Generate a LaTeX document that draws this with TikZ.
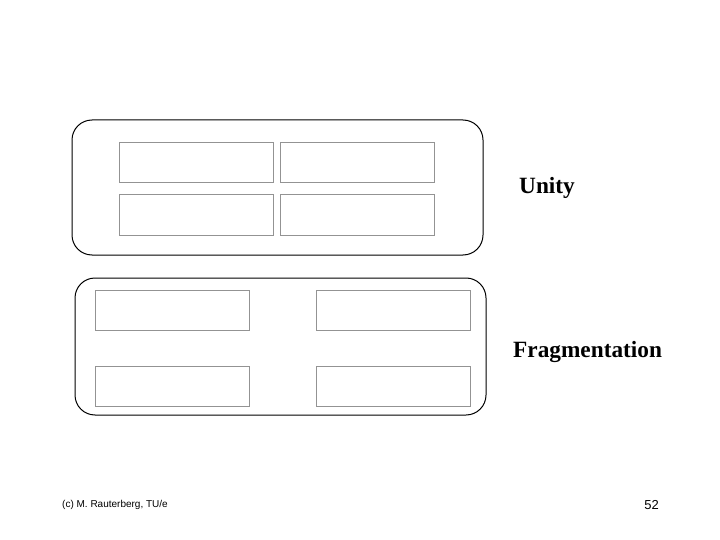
\documentclass[tikz,border=0pt]{standalone}
\usepackage{fontspec}
\setmainfont{Liberation Serif}
\setsansfont{Liberation Sans}
\begin{document}
\begin{tikzpicture}[x=1pt, y=-1pt,
  panel/.style={draw=black, line width=1pt, rounded corners=20pt, minimum width=411pt},
  cell/.style={draw=gray!85, line width=1pt, minimum width=154pt, minimum height=40pt},
  caption/.style={inner sep=0pt, font=\fontsize{23.3}{28}\selectfont\bfseries}]
\useasboundingbox (0,0) rectangle (720,540);
% unity
\node[panel, minimum height=135pt] (unity) at (277.5,187.5) {};
\node[cell] (u1) at (196,163) {};
\node[cell] (u2) at (357.5,163) {};
\node[cell] (u3) at (196,215) {};
\node[cell] (u4) at (357.5,215) {};
\node[caption, anchor=base west] (lunity) at (519,194) {Unity};
% fragmentation
\node[panel, minimum height=137pt] (frag) at (280.5,346.5) {};
\node[cell] (f1) at (172.5,310) {};
\node[cell] (f2) at (393.5,310) {};
\node[cell] (f3) at (172.5,386) {};
\node[cell] (f4) at (393.5,386) {};
\node[caption, anchor=base west] (lfrag) at (513,357) {Fragmentation};
% footer
\node[inner sep=0pt, anchor=base west, font=\sffamily\fontsize{10}{12}\selectfont] (credit) at (62,507) {(c) M. Rauterberg, TU/e};
\node[inner sep=0pt, anchor=base east, font=\sffamily\fontsize{13}{15}\selectfont] (page) at (659,509) {52};
\end{tikzpicture}
\end{document}
